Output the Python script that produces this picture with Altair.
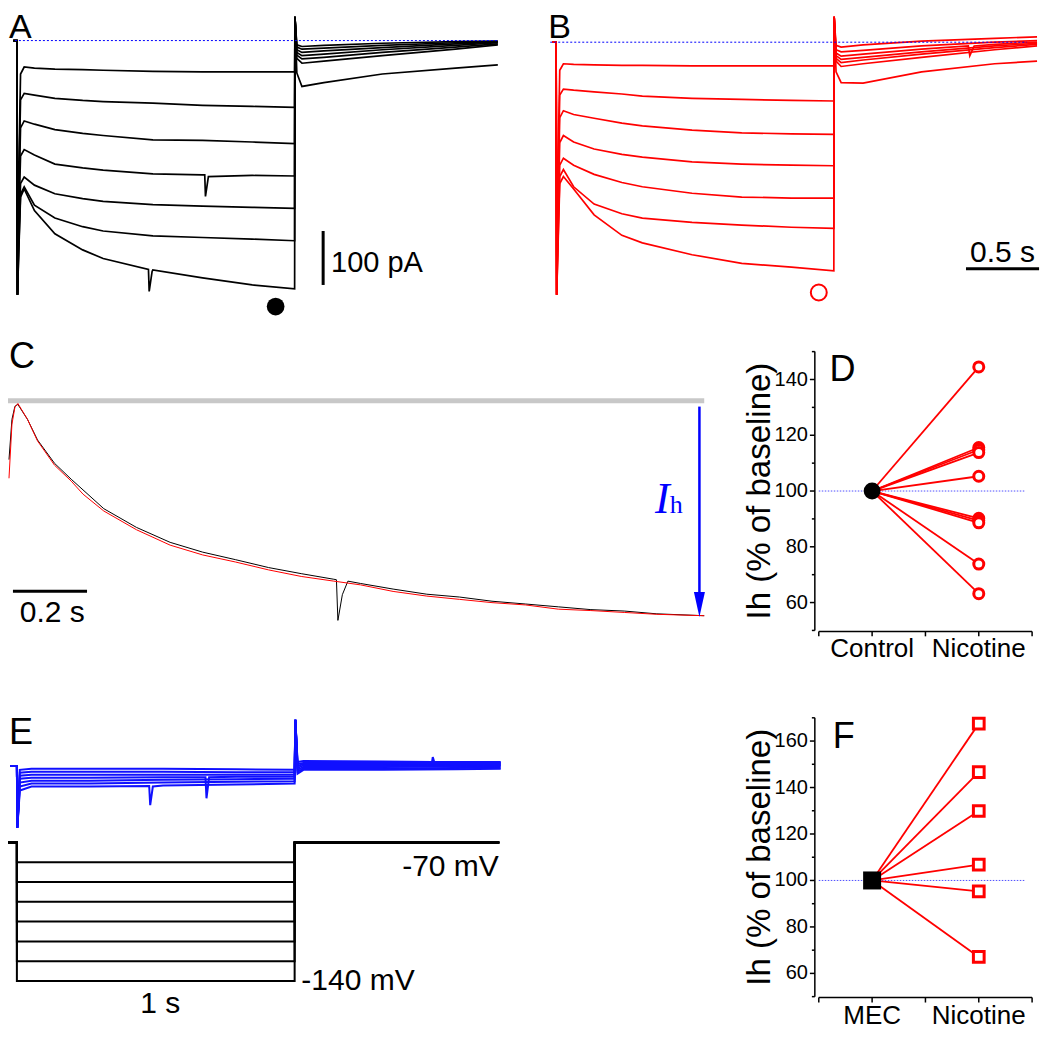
import altair as alt
import pandas as pd

# ======================= data =======================
# Panel A (control, black): sample times (s) and membrane currents (pA), 7 sweeps
A_TIME = [-0.025, 0, 0.004, 0.012, 0.025, 0.05, 0.12, 0.26, 0.45, 0.59, 0.93,
          1.27, 1.61, 1.9, 1.902, 1.915, 1.95, 2.1, 2.5, 3.0, 3.29]
A_TRACES = [
    [0, 0, -471, -250, -62, -49, -51, -53, -54, -55, -57, -58, -58, -58, 44, -8, -11, -9, -5, -2, -1],
    [0, 0, -471, -280, -110, -98, -101, -107, -111, -113, -116, -120, -122, -124, 44, -12, -16, -14, -9, -4, -2],
    [0, 0, -471, -310, -162, -149, -155, -165, -172, -176, -184, -185, -188, -191, 44, -17, -22, -19, -13, -6, -3],
    [0, 0, -471, -340, -214, -202, -212, -229, -236, -240, -247, -249, -250, -251, 44, -22, -28, -25, -17, -9, -4],
    [0, 0, -471, -370, -265, -253, -268, -284, -293, -298, -304, -307, -309, -311, 44, -27, -34, -31, -22, -12, -6],
    [0, 0, -471, -390, -285, -271, -305, -329, -345, -353, -362, -365, -368, -371, 44, -33, -42, -38, -28, -16, -8],
    [0, 0, -471, -400, -290, -275, -315, -358, -388, -404, -425, -440, -453, -460, 44, -60, -85, -78, -62, -51, -45],
]
A_SPIKES = [(3, [(1.285, -249), (1.29, -289), (1.31, -252)]),
            (6, [(0.9, -424), (0.905, -465), (0.925, -428)])]

# Panel B (nicotine, red)
B_TIME = A_TIME
B_TRACES = [
    [0, 0, -468, -240, -52, -40, -41, -42, -43, -43, -44, -44, -44, -44, 47, -6, -9, -5, 2, 7, 10],
    [0, 0, -468, -270, -98, -87, -89, -92, -96, -100, -104, -106, -108, -109, 47, -14, -18, -15, -7, 0, 3],
    [0, 0, -468, -300, -140, -127, -134, -141, -150, -155, -163, -168, -170, -171, 47, -20, -26, -22, -13, -4, 0],
    [0, 0, -468, -330, -186, -173, -185, -198, -208, -213, -222, -226, -228, -229, 47, -25, -32, -28, -18, -7, -2],
    [0, 0, -468, -360, -228, -215, -228, -245, -260, -268, -280, -287, -289, -289, 47, -30, -38, -33, -22, -10, -4],
    [0, 0, -468, -380, -249, -236, -268, -300, -318, -326, -334, -339, -343, -345, 47, -35, -45, -40, -28, -14, -7],
    [0, 0, -468, -390, -262, -249, -272, -320, -358, -372, -394, -410, -417, -424, 47, -55, -75, -76, -55, -40, -35],
]
B_SPIKES = [(2, [(2.82, -7), (2.83, -25), (2.86, -7)])]

# Panel C: most hyperpolarised sweep, control (black) vs nicotine (red)
C_TIME_BLACK = [0, 0.008, 0.016, 0.024, 0.05, 0.077, 0.123, 0.168, 0.256, 0.344, 0.435, 0.523,
                0.611, 0.701, 0.789, 0.877, 0.884, 0.888, 0.9, 0.915, 0.949, 1.037, 1.128,
                1.216, 1.304, 1.395, 1.483, 1.571, 1.661, 1.749, 1.877]
C_BLACK = [-126, -40, -12, -8, -40, -84, -134, -168, -231, -271, -303, -324,
           -340, -357, -370, -382, -383, -470, -415, -386, -391, -403, -414,
           -420, -429, -435, -441, -447, -450, -456, -460]
C_TIME_RED = [0, 0.008, 0.016, 0.024, 0.05, 0.077, 0.123, 0.168, 0.2, 0.256, 0.344, 0.435,
              0.523, 0.611, 0.701, 0.789, 0.877, 0.949, 1.037, 1.128, 1.216, 1.304, 1.395,
              1.483, 1.571, 1.661, 1.749, 1.877]
C_RED = [-166, -50, -14, -6, -40, -86, -138, -172, -200, -236, -276, -309,
         -330, -345, -362, -376, -386, -394, -408, -418, -425, -432, -437,
         -446, -449, -453, -457, -460]

# Panel D: Ih (% of baseline)
D_CATEGORIES = ["Control", "Nicotine"]
D_CONTROL = 100
D_NICOTINE = [144.5, 115.6, 114.8, 113.8, 105.3, 90.2, 89.4, 88.6, 73.8, 63.2]
D_TICKS = [50, 60, 70, 80, 90, 100, 110, 120, 130, 140, 150]

# Panel E: voltage recordings (blue) and step protocol (mV)
E_TIME = [-0.045, 0, 0.003, 0.02, 0.1, 0.5, 1.0, 1.5, 1.9, 1.905, 1.92, 1.96, 2.5, 3.0, 3.31]
E_TRACES = [
    [0, 0, -63, -4, -3, -3, -3, -3.5, -4, 47, 4, 5, 4.5, 4, 4],
    [0, 0, -63, -7, -6, -6, -6, -6.5, -6.5, 47, 2, 3, 3, 3, 3],
    [0, 0, -63, -10, -9, -9, -9, -9, -9, 47, 0, 2, 2, 2, 2],
    [0, 0, -63, -13, -12, -12, -11.5, -11, -11, 47, -2, 0.5, 0.5, 1, 1],
    [0, 0, -63, -17, -15, -15, -14, -13.5, -13, 47, -4, -1, -1, -0.5, 0],
    [0, 0, -63, -21, -18, -18, -17, -16, -15.5, 47, -6, -2.5, -2.5, -2, -1.5],
    [0, 0, -63, -25, -21, -21, -20, -19, -18, 47, -8, -4, -4, -3.5, -3],
]
E_SPIKES = [(6, [(0.905, -20.5), (0.912, -40), (0.93, -21)]),
            (3, [(1.29, -11.5), (1.297, -33), (1.315, -11.5)]),
            (0, [(2.84, 4), (2.845, 9), (2.855, 4)])]
HOLD_MV = -70
STEP_MV = [-80, -90, -100, -110, -120, -130, -140]
STEP_START, STEP_END, PROT_START, PROT_END = 0.0, 1.9, -0.061, 3.30

# Panel F
F_CATEGORIES = ["MEC", "Nicotine"]
F_CONTROL = 100
F_NICOTINE = [167.5, 146.6, 129.9, 106.8, 95.3, 67.1]
F_TICKS = [50, 60, 70, 80, 90, 100, 110, 120, 130, 140, 150, 160, 170]

Y_TITLE = "Ih (% of baseline)"

# ======================= layout helpers =======================
W, H = 1032, 1023
FONT = "Liberation Sans"


def X(px):
    return (px - 3) * W / 1045


def Y(py):
    return (py - 3) * H / 1042


def sc(domain, prange):
    return alt.Scale(domain=domain, range=prange, zero=False, nice=False)


def xy(xs, ys, xf="t", yf="v"):
    return dict(x=alt.X(f"{xf}:Q", scale=xs, axis=None),
                y=alt.Y(f"{yf}:Q", scale=ys, axis=None))


def traces_df(times, traces, spikes=()):
    rows = []
    for k, vals in enumerate(traces):
        pts = list(zip(times, vals))
        for kk, sp in spikes:
            if kk == k:
                pts += sp
        pts.sort(key=lambda p: p[0])
        for i, (t, v) in enumerate(pts):
            rows.append({"trace": k, "i": i, "t": t, "v": v})
    return pd.DataFrame(rows)


def text_layer(rows, xs, ys, size, align="left", color="black", font=FONT, style="normal",
               baseline="alphabetic", angle=0):
    df = pd.DataFrame(rows, columns=["t", "v", "label"])
    return alt.Chart(df).mark_text(
        font=font, fontSize=size, align=align, baseline=baseline,
        color=color, fontStyle=style, angle=angle
    ).encode(text="label:N", **xy(xs, ys))


def hrule(t1, t2, v, xs, ys, **style):
    df = pd.DataFrame({"t": [t1], "t2": [t2], "v": [v]})
    return alt.Chart(df).mark_rule(**style).encode(x2="t2:Q", **xy(xs, ys))


def vrule(t, v1, v2, xs, ys, **style):
    df = pd.DataFrame({"t": [t], "v": [v1], "v2": [v2]})
    return alt.Chart(df).mark_rule(**style).encode(y2="v2:Q", **xy(xs, ys))


# ======================= panel A =======================
ax = sc([0, 3.29], [X(12), X(499)])
ay = sc([-471, 44], [Y(295), Y(12)])
panelA = alt.layer(
    alt.Chart(traces_df(A_TIME, A_TRACES, A_SPIKES)).mark_line(color="black", strokeWidth=1.7)
    .encode(detail="trace:N", order="i:Q", **xy(ax, ay)),
    hrule(-0.0135, 3.297, 0, ax, ay, color="#0000ff", strokeDash=[2, 2], strokeWidth=1),
    alt.Chart(pd.DataFrame({"t": [1.77], "v": [-493]})).mark_point(
        shape="circle", filled=True, color="black", size=314, opacity=1).encode(**xy(ax, ay)),
    vrule(2.095, -453, -353, ax, ay, color="black", strokeWidth=3),
    text_layer([(2.149, -429, "100 pA")], ax, ay, 29),
    text_layer([(-0.054, 4, "A")], ax, ay, 34),
)

# ======================= panel B =======================
bx = sc([0, 3.29], [X(558), X(1045)])
by = sc([-468, 47], [Y(295), Y(12)])
panelB = alt.layer(
    alt.Chart(traces_df(B_TIME, B_TRACES, B_SPIKES)).mark_line(color="#ff0000", strokeWidth=1.7)
    .encode(detail="trace:N", order="i:Q", **xy(bx, by)),
    hrule(-0.04, 3.22, 0, bx, by, color="#0000ff", strokeDash=[2, 2], strokeWidth=1),
    alt.Chart(pd.DataFrame({"t": [1.797], "v": [-464]})).mark_point(
        shape="circle", filled=False, color="#ff0000", size=254, strokeWidth=2, opacity=1).encode(**xy(bx, by)),
    hrule(2.804, 3.304, -420, bx, by, color="black", strokeWidth=3),
    text_layer([(3.054, -408, "0.5 s")], bx, by, 30, align="center"),
    text_layer([(-0.054, 7, "B")], bx, by, 34),
)

# ======================= panel C =======================
cx = sc([0, 1.877], [X(4), X(708)])
cy = sc([-460, 0], [Y(622), Y(403)])
panelC = alt.layer(
    hrule(-0.011, 1.877, 0, cx, cy, color="#c8c8c8", strokeWidth=5),
    alt.Chart(traces_df(C_TIME_BLACK, [C_BLACK])).mark_line(color="black", strokeWidth=1)
    .encode(order="i:Q", **xy(cx, cy)),
    alt.Chart(traces_df(C_TIME_RED, [C_RED])).mark_line(color="#ff0000", strokeWidth=1)
    .encode(order="i:Q", **xy(cx, cy)),
    hrule(0.0107, 0.2107, -407.6, cx, cy, color="black", strokeWidth=3),
    text_layer([(0.117, -472.7, "0.2 s")], cx, cy, 30, align="center"),
    vrule(1.864, -12.6, -436, cx, cy, color="#0000ff", strokeWidth=2.5),
    alt.Chart(pd.DataFrame({"t": [1.864], "v": [-436]})).mark_point(
        shape="M-0.44,-1L0.44,-1L0,1Z", filled=True, color="#0000ff", size=625, opacity=1
    ).encode(**xy(cx, cy)),
    text_layer([(1.744, -239.5, "I")], cx, cy, 44, color="#0000ff",
               font="Liberation Serif", style="italic"),
    text_layer([(1.784, -239.5, "h")], cx, cy, 26, color="#0000ff", font="Liberation Serif"),
    text_layer([(0.0, 69, "C")], cx, cy, 36),
)


# ======================= panels D & F (paired plots with drawn axes) =======================
def paired_panel(categories, control, values, ydomain, ytop, ybottom, ticks,
                 ctrl_shape, ctrl_size, open_shape, open_size, letter, letter_pos):
    px = sc([0.5, 2.5], [X(824), X(1040)])
    py = sc(ydomain, [Y(ybottom), Y(ytop)])
    ux = 108.0                                   # page px per x unit
    uy = (ybottom - ytop) / (ydomain[1] - ydomain[0])   # page px per y unit
    xa = 0.5 - 4 / ux                            # y-axis line position
    yb = ydomain[0] - 1 / uy                     # x-axis line position

    def cxy(xf="c", yf="y"):
        return xy(px, py, xf, yf)

    rows = []
    for s, v in enumerate(values):
        rows.append({"s": s, "c": 1, "y": control})
        rows.append({"s": s, "c": 2, "y": v})
    dfl = pd.DataFrame(rows)

    lines = alt.Chart(dfl).mark_line(color="#ff0000", strokeWidth=1.8).encode(
        detail="s:N", order="c:Q", **cxy())
    ref = alt.Chart(pd.DataFrame({"c": [0.5], "c2": [2.435], "y": [100]})).mark_rule(
        color="#5050ff", strokeWidth=1, strokeDash=[1.5, 1.5]).encode(x2="c2:Q", **cxy())
    ctrl = alt.Chart(pd.DataFrame({"c": [1], "y": [control]})).mark_point(
        shape=ctrl_shape, filled=True, color="black", size=ctrl_size, opacity=1).encode(**cxy())
    opn = alt.Chart(dfl[dfl.c == 2]).mark_point(
        shape=open_shape, filled=False, color="#ff0000", fill="white", fillOpacity=1,
        size=open_size, strokeWidth=3, opacity=1).encode(**cxy())
    let = alt.Chart(pd.DataFrame({"c": [letter_pos[0]], "y": [letter_pos[1]], "label": [letter]})).mark_text(
        font=FONT, fontSize=36, align="left", baseline="alphabetic", color="black").encode(
        text="label:N", **cxy())

    # y axis
    y_dom = alt.Chart(pd.DataFrame({"c": [xa], "y": [ydomain[0]], "y2": [ydomain[1]]})).mark_rule(
        color="black", strokeWidth=1.5).encode(y2="y2:Q", **cxy())
    yt = pd.DataFrame({"y": ticks,
                       "c": [xa - (5 if v % 20 == 0 else 3) / ux for v in ticks],
                       "c2": [xa] * len(ticks)})
    y_ticks = alt.Chart(yt).mark_rule(color="black", strokeWidth=1.5).encode(x2="c2:Q", **cxy())
    yl = pd.DataFrame({"y": [v for v in ticks if v % 20 == 0]})
    yl["c"] = xa - 7 / ux
    yl["label"] = yl["y"].astype(str)
    y_labels = alt.Chart(yl).mark_text(font=FONT, fontSize=20, align="right", baseline="middle",
                                       color="black").encode(text="label:N", **cxy())
    y_title = alt.Chart(pd.DataFrame({"c": [xa - 56 / ux], "y": [(ydomain[0] + ydomain[1]) / 2],
                                      "label": [Y_TITLE]})).mark_text(
        font=FONT, fontSize=33, align="center", baseline="middle", angle=270, color="black"
    ).encode(text="label:N", **cxy())

    # x axis
    x_dom = alt.Chart(pd.DataFrame({"c": [0.5], "c2": [2.5], "y": [yb]})).mark_rule(
        color="black", strokeWidth=1.5).encode(x2="c2:Q", **cxy())
    xt = pd.DataFrame({"c": [0.5, 1, 1.5, 2, 2.5]})
    xt["y"] = yb
    xt["y2"] = yb - 5 / uy
    x_ticks = alt.Chart(xt).mark_rule(color="black", strokeWidth=1.5).encode(y2="y2:Q", **cxy())
    xl = pd.DataFrame({"c": [1, 2], "label": categories})
    xl["y"] = yb - 5 / uy
    x_labels = alt.Chart(xl).mark_text(font=FONT, fontSize=26, align="center", baseline="top",
                                       color="black").encode(text="label:N", **cxy())

    return alt.layer(ref, lines, ctrl, opn, let, y_dom, y_ticks, y_labels, y_title,
                     x_dom, x_ticks, x_labels)


panelD = paired_panel(D_CATEGORIES, D_CONTROL, D_NICOTINE, [50, 150], 353, 637,
                      D_TICKS, "circle", 283, "circle", 100, "D", (0.6, 139.4))
panelF = paired_panel(F_CATEGORIES, F_CONTROL, F_NICOTINE, [50, 170], 726, 1010,
                      F_TICKS, "square", 324, "square", 115, "F", (0.63, 156.9))

# ======================= panel E =======================
ex = sc([0, 3.29], [X(12), X(499)])
ey = sc([-63, 47], [Y(838), Y(728)])
prot_y = sc([-140, -70], [Y(994), Y(853)])
panelE = alt.layer(
    alt.Chart(traces_df(E_TIME, E_TRACES, E_SPIKES)).mark_line(color="#1010ff", strokeWidth=2)
    .encode(detail="trace:N", order="i:Q", **xy(ex, ey)),
    text_layer([(-0.054, 22.3, "E")], ex, ey, 36),
)
prot_rows = []
for k, lvl in enumerate(STEP_MV):
    seq = [(PROT_START, HOLD_MV), (STEP_START, HOLD_MV), (STEP_START, lvl),
           (STEP_END, lvl), (STEP_END, HOLD_MV), (PROT_END, HOLD_MV)]
    for i, (t, v) in enumerate(seq):
        prot_rows.append({"trace": k, "i": i, "t": t, "v": v})
panelP = alt.layer(
    alt.Chart(pd.DataFrame(prot_rows)).mark_line(color="black", strokeWidth=2)
    .encode(detail="trace:N", order="i:Q", **xy(ex, prot_y)),
    text_layer([(3.297, -86.7, "-70 mV")], ex, prot_y, 30, align="right"),
    text_layer([(1.946, -144.6, "-140 mV")], ex, prot_y, 30),
    text_layer([(0.98, -156.2, "1 s")], ex, prot_y, 30, align="center"),
)

chart = alt.layer(panelA, panelB, panelC, panelD, panelE, panelP, panelF).resolve_scale(
    x="independent", y="independent"
).properties(
    width=W, height=H, padding=0, autosize=alt.AutoSizeParams(type="none")
).configure_view(stroke=None)

chart.save("out.html", embed_options={"renderer": "svg", "actions": False})
